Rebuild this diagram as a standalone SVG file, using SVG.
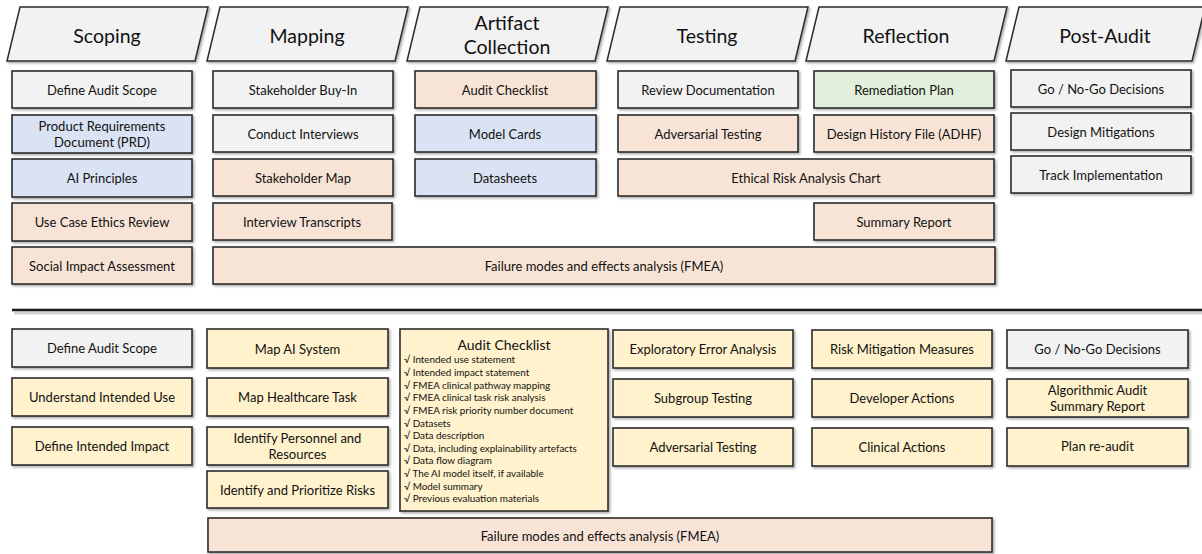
<svg xmlns="http://www.w3.org/2000/svg" width="1202" height="554" viewBox="0 0 1202 554">
  <defs>
    <filter id="sh" x="-5%" y="-20%" width="110%" height="150%">
      <feDropShadow dx="1.5" dy="1.5" stdDeviation="0.8" flood-color="#000" flood-opacity="0.35"/>
    </filter>
  </defs>
  <style>
    text { font-family: Lato, "Open Sans", "Liberation Sans", sans-serif; fill: #111; text-anchor: middle; dominant-baseline: central; }
    .hd polygon { fill: #f2f2f2; stroke: #2b2b2b; stroke-width: 1.5; filter: url(#sh); }
    .hd text { font-size: 19.5px; }
    .box rect { stroke: #2b2b2b; stroke-width: 1.6; filter: url(#sh); }
    .box text { font-size: 13px; }
    .gray rect { fill: #f2f2f2; }
    .blue rect { fill: #dae3f3; }
    .peach rect { fill: #f8e4d6; }
    .green rect { fill: #e2efda; }
    .yel rect { fill: #fff2cc; }
    .ck text.item { font-size: 9.9px; text-anchor: start; }
    .ck text.title { font-size: 14px; }
    .sep { stroke: #1a1a1a; stroke-width: 2.5; }
    .sep-shade { stroke: #000; stroke-opacity: 0.18; stroke-width: 3; }
  </style>

  <!-- phase headers -->
  <g id="hdr-scoping" class="hd">
    <polygon points="20,7 208,7 195,61 7,61"/>
    <text x="107" y="35">Scoping</text>
  </g>
  <g id="hdr-mapping" class="hd">
    <polygon points="220,7 408,7 395,61 207,61"/>
    <text x="307" y="35">Mapping</text>
  </g>
  <g id="hdr-artifact" class="hd">
    <polygon points="420,7 608,7 595,61 407,61"/>
    <text x="507" y="22">Artifact</text>
    <text x="507" y="46">Collection</text>
  </g>
  <g id="hdr-testing" class="hd">
    <polygon points="620,7 808,7 795,61 607,61"/>
    <text x="707" y="35">Testing</text>
  </g>
  <g id="hdr-reflection" class="hd">
    <polygon points="819,7 1007,7 994,61 806,61"/>
    <text x="906" y="35">Reflection</text>
  </g>
  <g id="hdr-postaudit" class="hd">
    <polygon points="1019,7 1205,7 1192,61 1006,61"/>
    <text x="1105" y="35">Post-Audit</text>
  </g>

  <!-- upper framework: scoping -->
  <g id="t-scope" class="box gray"><rect x="12" y="71" width="180" height="37"/><text x="102" y="89.5">Define Audit Scope</text></g>
  <g id="t-prd" class="box blue"><rect x="12" y="115" width="180" height="38"/><text x="102" y="126">Product Requirements</text><text x="102" y="142">Document (PRD)</text></g>
  <g id="t-principles" class="box blue"><rect x="12" y="159" width="180" height="38"/><text x="102" y="178">AI Principles</text></g>
  <g id="t-ethics" class="box peach"><rect x="12" y="203" width="180" height="38"/><text x="102" y="222">Use Case Ethics Review</text></g>
  <g id="t-impact" class="box peach"><rect x="12" y="247" width="180" height="37"/><text x="102" y="265.5">Social Impact Assessment</text></g>

  <!-- upper framework: mapping -->
  <g id="t-buyin" class="box gray"><rect x="213" y="71" width="180" height="37"/><text x="303" y="89.5">Stakeholder Buy-In</text></g>
  <g id="t-interviews" class="box gray"><rect x="213" y="115" width="180" height="37"/><text x="303" y="133.5">Conduct Interviews</text></g>
  <g id="t-stakemap" class="box peach"><rect x="213" y="159" width="180" height="37"/><text x="303" y="177.5">Stakeholder Map</text></g>
  <g id="t-transcripts" class="box peach"><rect x="213" y="203" width="179" height="37"/><text x="302" y="221.5">Interview Transcripts</text></g>
  <g id="t-fmea" class="box peach"><rect x="213" y="247" width="782" height="37"/><text x="604" y="265.5">Failure modes and effects analysis (FMEA)</text></g>

  <!-- upper framework: artifact collection -->
  <g id="t-checklist" class="box peach"><rect x="415" y="71" width="181" height="37"/><text x="505" y="89.5">Audit Checklist</text></g>
  <g id="t-modelcards" class="box blue"><rect x="415" y="115" width="181" height="37"/><text x="505" y="133.5">Model Cards</text></g>
  <g id="t-datasheets" class="box blue"><rect x="415" y="159" width="181" height="37"/><text x="505" y="177.5">Datasheets</text></g>

  <!-- upper framework: testing -->
  <g id="t-review" class="box gray"><rect x="618" y="71" width="180" height="37"/><text x="708" y="89.5">Review Documentation</text></g>
  <g id="t-adversarial" class="box peach"><rect x="618" y="115" width="180" height="37"/><text x="708" y="133.5">Adversarial Testing</text></g>
  <g id="t-erac" class="box peach"><rect x="618" y="159" width="376" height="37"/><text x="806" y="177.5">Ethical Risk Analysis Chart</text></g>

  <!-- upper framework: reflection -->
  <g id="t-remediation" class="box green"><rect x="814" y="71" width="180" height="37"/><text x="904" y="89.5">Remediation Plan</text></g>
  <g id="t-adhf" class="box peach"><rect x="814" y="115" width="180" height="37"/><text x="904" y="133.5">Design History File (ADHF)</text></g>
  <g id="t-summary" class="box peach"><rect x="814" y="203" width="180" height="37"/><text x="904" y="221.5">Summary Report</text></g>

  <!-- upper framework: post-audit -->
  <g id="t-gonogo" class="box gray"><rect x="1011" y="70" width="180" height="37"/><text x="1101" y="88.5">Go / No-Go Decisions</text></g>
  <g id="t-mitigations" class="box gray"><rect x="1011" y="113" width="180" height="37"/><text x="1101" y="131.5">Design Mitigations</text></g>
  <g id="t-track" class="box gray"><rect x="1011" y="156" width="180" height="37"/><text x="1101" y="174.5">Track Implementation</text></g>

  <!-- divider between the two frameworks -->
  <g id="connectors">
    <line class="sep-shade" x1="14" y1="313" x2="1202" y2="313"/>
    <line class="sep" x1="12" y1="310" x2="1202" y2="310"/>
  </g>

  <!-- lower framework: scoping -->
  <g id="b-scope" class="box gray"><rect x="12" y="329" width="180" height="38"/><text x="102" y="348">Define Audit Scope</text></g>
  <g id="b-use" class="box yel"><rect x="12" y="378" width="180" height="38"/><text x="102" y="397">Understand Intended Use</text></g>
  <g id="b-impact" class="box yel"><rect x="12" y="427" width="180" height="38"/><text x="102" y="446">Define Intended Impact</text></g>

  <!-- lower framework: mapping -->
  <g id="b-mapai" class="box yel"><rect x="207" y="329" width="181" height="39"/><text x="297.5" y="348.5">Map AI System</text></g>
  <g id="b-task" class="box yel"><rect x="207" y="378" width="181" height="38"/><text x="297.5" y="397">Map Healthcare Task</text></g>
  <g id="b-personnel" class="box yel"><rect x="207" y="427" width="181" height="38"/><text x="297.5" y="437.5">Identify Personnel and</text><text x="297.5" y="454">Resources</text></g>
  <g id="b-risks" class="box yel"><rect x="207" y="471" width="181" height="37"/><text x="297.5" y="489.5">Identify and Prioritize Risks</text></g>

  <!-- lower framework: artifact checklist -->
  <g id="b-checklist" class="box yel ck">
    <rect x="400" y="329" width="208" height="182"/>
    <text class="title" x="504" y="344">Audit Checklist</text>
    <text class="item" x="404" y="359.3">√ Intended use statement</text>
    <text class="item" x="404" y="371.9">√ Intended impact statement</text>
    <text class="item" x="404" y="384.6">√ FMEA clinical pathway mapping</text>
    <text class="item" x="404" y="397.2">√ FMEA clinical task risk analysis</text>
    <text class="item" x="404" y="409.9">√ FMEA risk priority number document</text>
    <text class="item" x="404" y="422.5">√ Datasets</text>
    <text class="item" x="404" y="435.1">√ Data description</text>
    <text class="item" x="404" y="447.8">√ Data, including explainability artefacts</text>
    <text class="item" x="404" y="460.4">√ Data flow diagram</text>
    <text class="item" x="404" y="473.1">√ The AI model itself, if available</text>
    <text class="item" x="404" y="485.7">√ Model summary</text>
    <text class="item" x="404" y="498.3">√ Previous evaluation materials</text>
  </g>

  <!-- lower framework: testing -->
  <g id="b-error" class="box yel"><rect x="613" y="330" width="180" height="38"/><text x="703" y="349">Exploratory Error Analysis</text></g>
  <g id="b-subgroup" class="box yel"><rect x="613" y="379" width="180" height="38"/><text x="703" y="398">Subgroup Testing</text></g>
  <g id="b-adversarial" class="box yel"><rect x="613" y="428" width="180" height="38"/><text x="703" y="447">Adversarial Testing</text></g>

  <!-- lower framework: reflection -->
  <g id="b-mitigation" class="box yel"><rect x="812" y="330" width="180" height="38"/><text x="902" y="349">Risk Mitigation Measures</text></g>
  <g id="b-developer" class="box yel"><rect x="812" y="379" width="180" height="38"/><text x="902" y="398">Developer Actions</text></g>
  <g id="b-clinical" class="box yel"><rect x="812" y="428" width="180" height="38"/><text x="902" y="447">Clinical Actions</text></g>

  <!-- lower framework: post-audit -->
  <g id="b-gonogo" class="box gray"><rect x="1007" y="330" width="181" height="38"/><text x="1097.5" y="349">Go / No-Go Decisions</text></g>
  <g id="b-report" class="box yel"><rect x="1007" y="379" width="181" height="38"/><text x="1097.5" y="389.5">Algorithmic Audit</text><text x="1097.5" y="406">Summary Report</text></g>
  <g id="b-reaudit" class="box yel"><rect x="1007" y="428" width="181" height="38"/><text x="1097.5" y="446">Plan re-audit</text></g>

  <!-- lower framework: FMEA band -->
  <g id="b-fmea" class="box peach"><rect x="208" y="518" width="784" height="34"/><text x="600" y="536">Failure modes and effects analysis (FMEA)</text></g>
</svg>
